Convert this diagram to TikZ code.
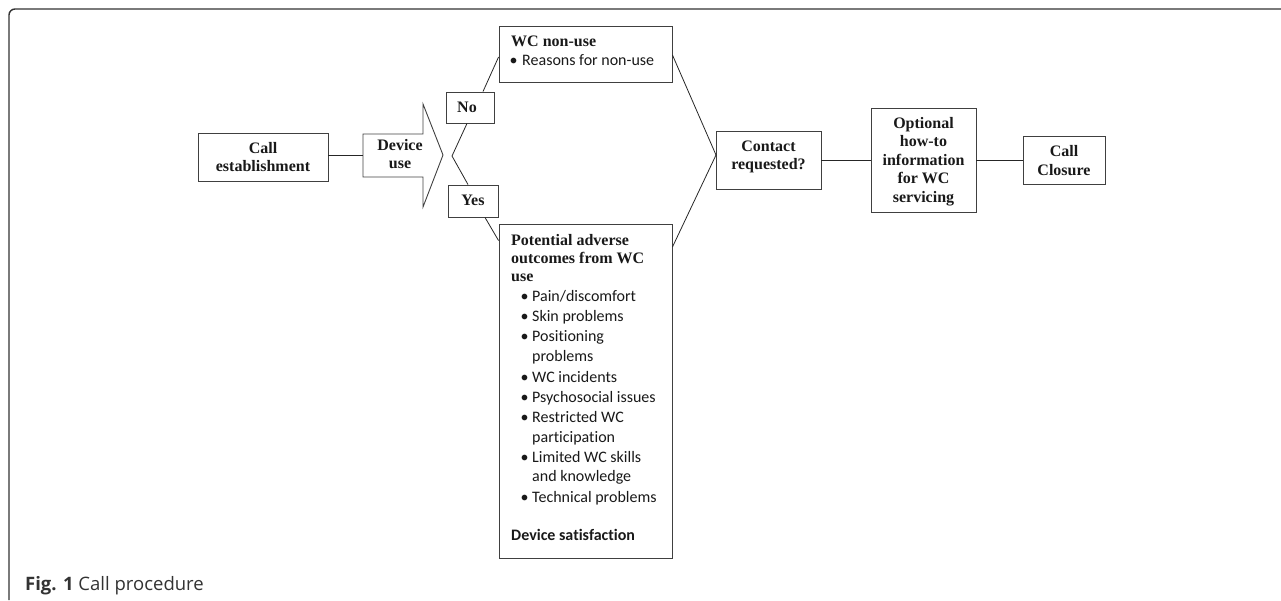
\documentclass[tikz,border=0pt]{standalone}
\usepackage{fontspec}
\setmainfont{Liberation Serif}
\newfontfamily\calfont[Ligatures=NoCommon]{Carlito}
\newfontfamily\capfont{Open Sans}
\newcommand{\tbf}{\fontsize{16}{18}\selectfont\bfseries}
\newcommand{\cbf}{\fontsize{16}{20}\selectfont\calfont}
\begin{document}
\begin{tikzpicture}[x=1pt,y=-1pt,
  box/.style={draw=black!75, line width=0.9pt, inner sep=0pt},
  conn/.style={draw=black!85, line width=0.8pt},
  tc/.style={inner sep=0pt, anchor=base, font=\tbf, text=black!90},
  tl/.style={inner sep=0pt, anchor=base west, font=\tbf, text=black!90},
  cl/.style={inner sep=0pt, anchor=base west, font=\cbf, text=black!90},
  cb/.style={inner sep=0pt, anchor=base, font=\cbf, text=black!90}]
\useasboundingbox (0,0) rectangle (1281,600);
% frame
\draw[black!80, line width=1.4pt, rounded corners=6pt] (1281,9) -- (9,9) -- (9,600);
% boxes
\node[box, minimum width=130, minimum height=48] (ce) at (263,157) {};
\node[box, minimum width=48, minimum height=31] (no) at (470,107.5) {};
\node[box, minimum width=50, minimum height=32] (yes) at (473,201) {};
\node[box, minimum width=173, minimum height=56] (wc) at (585.5,54) {};
\node[box, minimum width=173, minimum height=334] (pot) at (585.5,391) {};
\node[box, minimum width=105, minimum height=58] (con) at (768.5,160) {};
\node[box, minimum width=105, minimum height=104] (opt) at (923.5,160) {};
\node[box, minimum width=82, minimum height=48] (clo) at (1064,160) {};
% device use arrow
\draw[box] (363,134) -- (423,134) -- (423,104) -- (443,155) -- (423,207) -- (423,177) -- (363,177) -- cycle;
\coordinate (duin) at (363,155);
\coordinate (fork) at (452,156);
\coordinate (conin) at (716,155);
% texts
\node[tc] (ce1) at (263,153) {Call};
\node[tc] (ce2) at (263,171) {establishment};
\node[tc] (du1) at (400,150) {Device};
\node[tc] (du2) at (400,168) {use};
\node[tc] (not) at (467,112) {No};
\node[tc] (yest) at (473,205) {Yes};
\node[tl] (wc1) at (511,46) {WC non-use};
\node[cb] (wcb) at (513.5,65) {•};
\node[cl] (wc2) at (522,65) {Reasons for non-use};
\node[tl] (p1) at (511,245) {Potential adverse};
\node[tl] (p2) at (511,263) {outcomes from WC};
\node[tl] (p3) at (511,281) {use};
\foreach \y/\t [count=\i] in {301/Pain\slash discomfort, 321/Skin problems, 341/Positioning, 382/WC incidents, 402/Psychosocial issues, 422/Restricted WC, 462/Limited WC skills, 502/Technical problems}{
  \node[cb] (pb\i) at (524.5,\y) {•};
  \node[cl] (pt\i) at (532,\y) {\t};
}
\node[cl] (pc1) at (532,361) {problems};
\node[cl] (pc2) at (532,442) {participation};
\node[cl] (pc3) at (532,481) {and knowledge};
\node[cl, font=\cbf\bfseries] (ds) at (511,540) {Device satisfaction};
\node[tc] (c1) at (768.5,151) {Contact};
\node[tc] (c2) at (768.5,169) {requested?};
\node[tc] (o1) at (923.5,128) {Optional};
\node[tc] (o2) at (923.5,146.5) {how-to};
\node[tc] (o3) at (923.5,165) {information};
\node[tc] (o4) at (923.5,183.5) {for WC};
\node[tc] (o5) at (923.5,202) {servicing};
\node[tc] (cl1) at (1064,156) {Call};
\node[tc] (cl2) at (1064,175) {Closure};
% caption
\node[inner sep=0pt, anchor=base west, text=black!80, font=\capfont\fontsize{18.5}{20}\selectfont] (cap) at (25,590) {\textbf{Fig. 1} Call procedure};
% connectors
\draw[conn] (ce.east |- duin) -- (duin);
\draw[conn] ([xshift=-3pt]no.south) -- (fork) -- ([xshift=-5pt]yes.north);
\draw[conn] ([xshift=13pt]no.north) -- ([yshift=-3pt]wc.west);
\draw[conn] ([xshift=12pt]yes.south) -- ([yshift=-17pt]pot.north west);
\draw[conn] ([yshift=-1pt]wc.east) -- (conin) -- ([yshift=144pt]pot.east);
\draw[conn] (con.east) -- (opt.west);
\draw[conn] (opt.east) -- (clo.west);
\end{tikzpicture}
\end{document}
